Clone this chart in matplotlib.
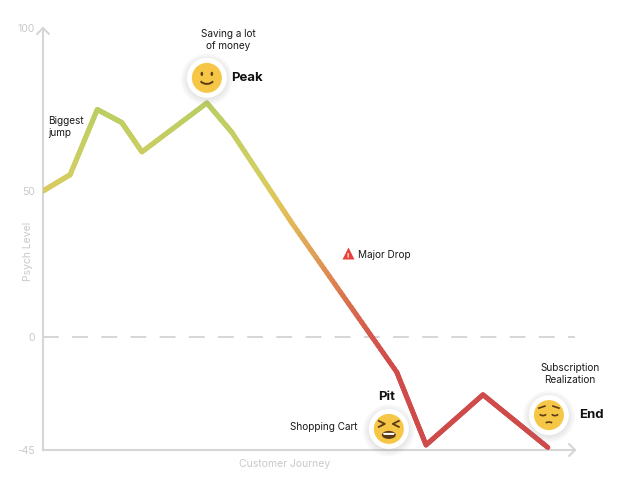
import numpy as np
import matplotlib.pyplot as plt
from matplotlib.collections import LineCollection
from matplotlib.colors import LinearSegmentedColormap
from matplotlib.patches import Circle, Ellipse, Arc, Polygon

# --------------------------------------------------------------
# Data
# --------------------------------------------------------------
journey = [0, 5.1, 10.2, 14.8, 18.6, 30.8, 35.5, 46.8, 66.5, 72.0, 82.7, 94.9]
psych = [50, 55, 75, 71, 62, 77, 68, 39, -14, -43, -23, -44]

y_ticks = [-45, 0, 50, 100]
y_tick_pos = [0, 113, 259, 422]   # uneven spacing of the original axis

plt.rcParams["font.family"] = ["Inter", "DejaVu Sans"]

# --------------------------------------------------------------
# Figure / axes
# --------------------------------------------------------------
fig = plt.figure(figsize=(6.23, 4.8), dpi=100)
ax = fig.add_axes([43 / 623, 30 / 480, 532 / 623, 422 / 480])

fwd = lambda v: np.interp(v, y_ticks, y_tick_pos)
inv = lambda p: np.interp(p, y_tick_pos, y_ticks)
ax.set_yscale("function", functions=(fwd, inv))
ax.set_ylim(-45, 100)
ax.set_xlim(0, 100)

axis_grey = "#d6d6d6"
label_grey = "#c9c9c9"
for side in ["top", "right"]:
    ax.spines[side].set_visible(False)
for side in ["left", "bottom"]:
    ax.spines[side].set_color(axis_grey)
    ax.spines[side].set_linewidth(1.5)

ax.set_xticks([])
ax.set_yticks(y_ticks)
ax.set_yticklabels([str(t) for t in y_ticks])
ax.tick_params(axis="y", length=0, pad=6, labelsize=7.5, labelcolor=label_grey)

ax.set_ylabel("Psych Level", fontsize=7.5, color=label_grey)
ax.yaxis.set_label_coords(-0.018, 0.47)
ax.set_xlabel("Customer Journey", fontsize=7.5, color=label_grey)
ax.xaxis.set_label_coords(0.455, -0.022)

ax.axhline(0, color="#cfcfcf", lw=1.2, dashes=(9.5, 8), zorder=1)

# --------------------------------------------------------------
# Gradient line (colour by psych level)
# --------------------------------------------------------------
lo, hi = -45, 80
stops = [(-45, "#cf4a4a"), (-10, "#d04c4b"), (0, "#d4584c"), (13, "#d9744e"),
         (28, "#e0a055"), (45, "#e2c45a"), (55, "#d2cf62"), (80, "#b6cd62")]
cmap = LinearSegmentedColormap.from_list(
    "psych", [((v - lo) / (hi - lo), c) for v, c in stops])

# split every segment into short pieces (straight on screen) for the gradient
segs, cols = [], []
for i in range(len(journey) - 1):
    xs = np.linspace(journey[i], journey[i + 1], 40)
    ys = inv(np.linspace(fwd(psych[i]), fwd(psych[i + 1]), 40))
    for j in range(len(xs) - 1):
        segs.append([(xs[j], ys[j]), (xs[j + 1], ys[j + 1])])
        cols.append(cmap((0.5 * (ys[j] + ys[j + 1]) - lo) / (hi - lo)))
lc = LineCollection(segs, colors=cols, linewidths=3.6, capstyle="round",
                    joinstyle="round", zorder=3)
ax.add_collection(lc)

# --------------------------------------------------------------
# Annotations
# --------------------------------------------------------------
txt = dict(fontsize=7.2, color="#1a1a1a", linespacing=1.25)
ax.text(34.8, 96.3, "Saving a lot\nof money", ha="center", va="center", **txt)
ax.text(35.3, 84.7, "Peak", ha="left", va="center", fontsize=9.5,
        fontweight="bold", color="#111111")
ax.text(0.9, 69.6, "Biggest\njump", ha="left", va="center", **txt)
ax.text(59.2, 28.1, "Major Drop", ha="left", va="center", **txt)
ax.plot([57.3], [28.6], marker="^", ms=8, color="#e8423a", mec="none", zorder=4)
ax.text(57.3, 27.9, "!", ha="center", va="center", fontsize=5,
        fontweight="bold", color="white", zorder=5)
ax.text(64.5, -23.9, "Pit", ha="center", va="center", fontsize=9.5,
        fontweight="bold", color="#111111")
ax.text(59.2, -35.8, "Shopping Cart", ha="right", va="center", **txt)
ax.text(99.1, -14.7, "Subscription\nRealization", ha="center", va="center", **txt)
ax.text(100.8, -31.1, "End", ha="left", va="center", fontsize=9.5,
        fontweight="bold", color="#111111")

# --------------------------------------------------------------
# Overlay in pixel space for arrows + emoji faces
# --------------------------------------------------------------
ov = fig.add_axes([0, 0, 1, 1], zorder=5)
ov.set_xlim(0, 623)
ov.set_ylim(0, 480)
ov.axis("off")
ov.patch.set_alpha(0)

to_px = lambda x, y: ov.transData.inverted().transform(ax.transData.transform((x, y)))
ax_px = lambda x, y: ov.transData.inverted().transform(ax.transAxes.transform((x, y)))

# axis arrow heads
tx, ty = ax_px(0, 1)
ov.plot([tx - 6, tx, tx + 6], [ty - 6, ty, ty - 6], color=axis_grey, lw=1.5,
        solid_capstyle="round")
rx, ry = ax_px(1, 0)
ov.plot([rx - 6, rx, rx - 6], [ry + 6, ry, ry - 6], color=axis_grey, lw=1.5,
        solid_capstyle="round")

face_yellow = "#f6c646"
brown = "#5b3b17"


def badge(cx, cy):
    for k in range(6):
        ov.add_patch(Circle((cx, cy - 1.5), 20 + k * 1.2, color="#8a8a8a",
                            alpha=0.035, lw=0))
    ov.add_patch(Circle((cx, cy), 20, color="white", lw=0))
    ov.add_patch(Circle((cx, cy), 15, color=face_yellow, lw=0))


def smile(cx, cy):
    badge(cx, cy)
    for dx in (-5, 5):
        ov.add_patch(Ellipse((cx + dx, cy + 4), 2.6, 4.2, color=brown, lw=0))
    ov.add_patch(Arc((cx, cy + 1), 16, 14, theta1=215, theta2=325,
                     color=brown, lw=1.4))


def tired(cx, cy):
    badge(cx, cy)
    ov.plot([cx - 10, cx - 4, cx - 10], [cy + 8, cy + 5, cy + 2], color=brown, lw=1.3)
    ov.plot([cx + 10, cx + 4, cx + 10], [cy + 8, cy + 5, cy + 2], color=brown, lw=1.3)
    ov.add_patch(Ellipse((cx, cy - 6), 14, 8, color=brown, lw=0))
    ov.add_patch(Polygon([(cx - 6, cy - 4), (cx + 6, cy - 4), (cx + 5, cy - 6),
                          (cx - 5, cy - 6)], color="white", lw=0))


def pensive(cx, cy):
    badge(cx, cy)
    ov.plot([cx - 10, cx - 4], [cy + 7, cy + 9], color=brown, lw=1.2)
    ov.plot([cx + 10, cx + 4], [cy + 7, cy + 9], color=brown, lw=1.2)
    for dx in (-6, 6):
        ov.add_patch(Arc((cx + dx, cy + 2), 7, 5, theta1=200, theta2=340,
                         color=brown, lw=1.2))
    ov.add_patch(Arc((cx, cy - 9), 8, 4, theta1=20, theta2=160,
                     color=brown, lw=1.2))


smile(*to_px(30.8, 84.7))
tired(*to_px(65.0, -36.6))
pensive(*to_px(95.1, -31.1))

fig.savefig("out.png", dpi=100)
